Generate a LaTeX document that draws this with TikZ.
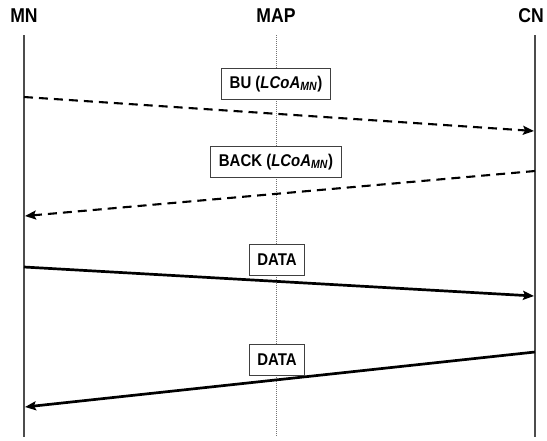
\documentclass[tikz,border=0pt]{standalone}
\usepackage{fontspec}
\setmainfont[FakeStretch=0.88]{Liberation Sans}
\usetikzlibrary{arrows.meta}
\begin{document}
\begin{tikzpicture}[x=1pt,y=-1pt,
  head/.style={font=\bfseries\fontsize{20}{24}\selectfont},
  msgbox/.style={draw=black!75,line width=0.9pt,fill=white,inner xsep=8pt,minimum height=31pt,
    font=\bfseries\fontsize{17}{20}\selectfont},
  life/.style={line width=1.3pt,draw=black!70},
  tip/.style={-{Stealth[length=11pt,width=9pt,inset=2pt]}},
  sig/.style={tip,line width=2.1pt,dash pattern=on 9pt off 6pt},
  dat/.style={tip,line width=2.7pt}]
\useasboundingbox (0,0) rectangle (547,440);
% entity headings
\node[head] (mn) at (24,16) {MN};
\node[head] (map) at (276,16) {MAP};
\node[head] (cn) at (531,16) {CN};
% lifelines
\coordinate (mnT) at (24,35);  \coordinate (mnB) at (24,437);
\coordinate (mapT) at (276,35); \coordinate (mapB) at (276,437);
\coordinate (cnT) at (535,35);  \coordinate (cnB) at (535,437);
\draw[life] (mnT) -- (mnB);
\draw[life] (cnT) -- (cnB);
\draw[line width=1pt,draw=black!55,dash pattern=on 1pt off 1pt] (mapT) -- (mapB);
% message endpoints
\coordinate (bu1) at (24,97);   \coordinate (bu2) at (534,131);
\coordinate (ba1) at (535,171); \coordinate (ba2) at (25,216);
\coordinate (d1a) at (24,267);  \coordinate (d1b) at (534,296);
\coordinate (d2a) at (535,352); \coordinate (d2b) at (25,407);
\draw[sig] (bu1) -- (bu2);
\draw[sig] (ba1) -- (ba2);
\draw[dat] (d1a) -- (d1b);
\draw[dat] (d2a) -- (d2b);
% message labels
\node[msgbox] (bu) at (276,84) {BU (\textit{LCoA}\textsubscript{\textit{MN}})};
\node[msgbox] (back) at (276,162) {BACK (\textit{LCoA}\textsubscript{\textit{MN}})};
\node[msgbox] (data1) at (277,260) {DATA};
\node[msgbox] (data2) at (277,360) {DATA};
\end{tikzpicture}
\end{document}
